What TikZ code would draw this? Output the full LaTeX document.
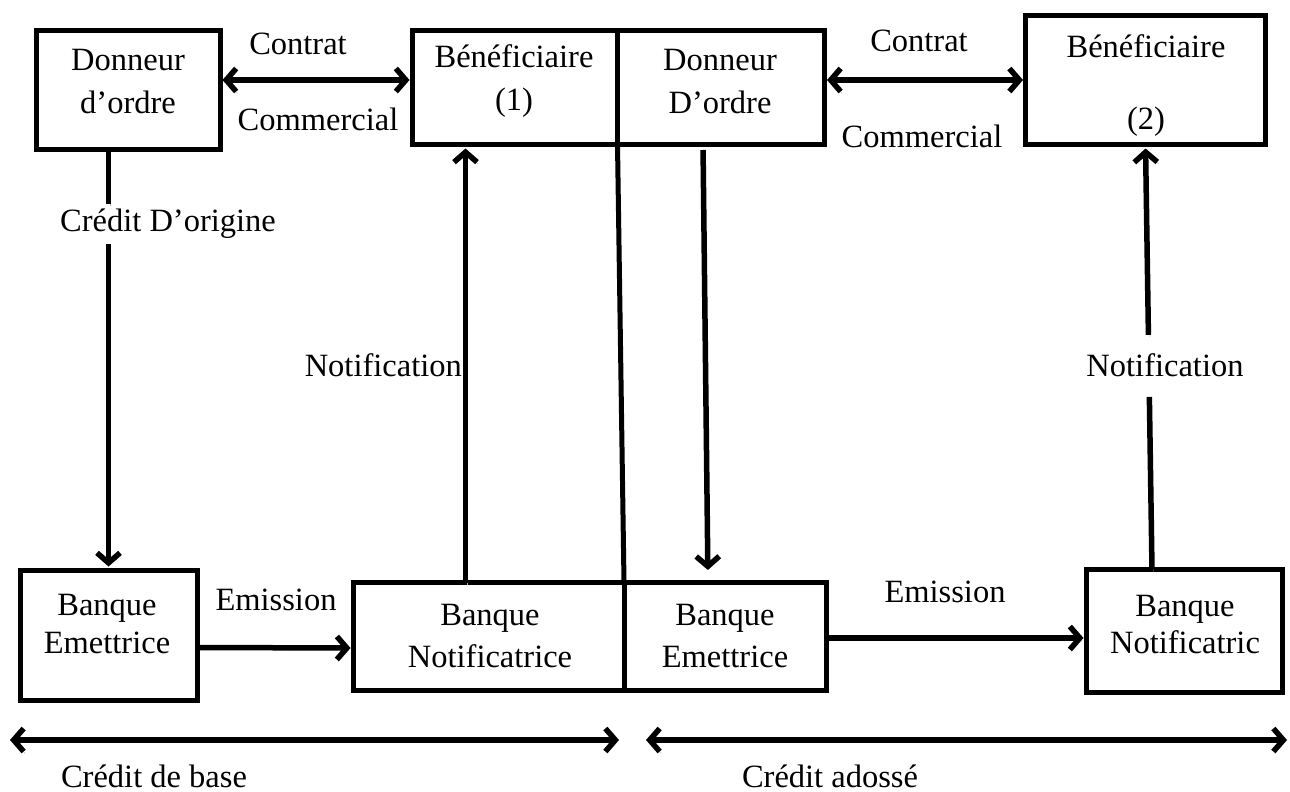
\documentclass[tikz,border=0pt]{standalone}
\usepackage{fontspec}
\setmainfont{Liberation Serif}
\usetikzlibrary{arrows.meta,calc}
\begin{document}
\begin{tikzpicture}[x=1pt,y=-1pt,
  box/.style={draw, line width=5pt, inner sep=0pt, outer sep=0pt, rectangle},
  txt/.style={font=\fontsize{32.5}{43}\selectfont, align=center, inner sep=0pt},
  link/.style={line width=5.5pt,
    preaction={draw=black!30, transform canvas={shift={(1.5pt,-2pt)}}}},
  tip/.style={-{Straight Barb[length=10pt,width=23pt]}},
  tips/.style={{Straight Barb[length=10pt,width=23pt]}-{Straight Barb[length=10pt,width=23pt]}},
]
\useasboundingbox (0,0) rectangle (1290,792);

% boxes
\node[box, minimum width=183.5pt, minimum height=119pt] (d1)  at (128.25,90)  {};
\node[box, minimum width=205.5pt, minimum height=114pt] (b1)  at (514.75,87.5) {};
\node[box, minimum width=207pt,   minimum height=114pt] (d2)  at (721,87.5)   {};
\node[box, minimum width=240pt,   minimum height=129pt] (bf2) at (1145.5,80)  {};
\node[box, minimum width=177pt,   minimum height=130pt] (be1) at (108.5,635.5) {};
\node[box, minimum width=271pt,   minimum height=108pt] (bn)  at (488.5,636.5) {};
\node[box, minimum width=202pt,   minimum height=108pt] (be2) at (725,636.5)  {};
\node[box, minimum width=196pt,   minimum height=123pt] (bnc) at (1184,631)   {};

% box texts
\node[txt] (td1) at (128,81.5) {Donneur\\d’ordre};
\node[txt] (tb1) at (514,81.5) {Bénéficiaire\\(1)};
\node[txt] (td2) at (720,81.5) {Donneur\\D’ordre};
\node[txt, font=\fontsize{32.5}{72}\selectfont] (tbf2) at (1146,86) {Bénéficiaire\\(2)};
\node[txt, font=\fontsize{32.5}{38}\selectfont] (tbe1) at (107,624) {Banque\\Emettrice};
\node[txt, font=\fontsize{32.5}{42}\selectfont] (tbn)  at (490,636) {Banque\\Notificatrice};
\node[txt, font=\fontsize{32.5}{42}\selectfont] (tbe2) at (725,636) {Banque\\Emettrice};
\node[txt, font=\fontsize{32.5}{37}\selectfont] (tbnc) at (1185,625) {Banque\\Notificatric};

% link labels
\node[txt] (lc1) at (298,44)  {Contrat};
\node[txt] (lm1) at (318,119) {Commercial};
\node[txt] (lc2) at (919,41)  {Contrat};
\node[txt] (lm2) at (922,136) {Commercial};
\node[txt, minimum height=40pt] (lo) at (168,224) {Crédit D’origine};
\node[txt, anchor=east] (ln1) at (462,365) {Notification};
\node[txt] (ln2) at (1165,365) {Notification};
\node[txt] (le1) at (276,600) {Emission};
\node[txt] (le2) at (945,592) {Emission};
\node[txt] (lb)  at (154,776) {Crédit de base};
\node[txt] (la)  at (830,776) {Crédit adossé};

% helper points
\coordinate (n1b) at ([xshift=112.5pt]bn.north west);
\coordinate (dA)  at ([xshift=85.5pt]d2.south west);
\coordinate (dB)  at ([xshift=84pt]be2.north west);
\coordinate (n2b) at ([xshift=66pt]bnc.north west);
\coordinate (r1a) at (10,740);
\coordinate (r1b) at (619,740);
\coordinate (r2a) at (646,740);
\coordinate (r2b) at (1287,740);

% commercial contracts
\draw[link, tips, shorten <=2.5pt, shorten >=2.5pt]
  ([yshift=-49.5pt]d1.north east) -- ([yshift=-49.5pt]b1.north west);
\draw[link, tips, shorten <=2.5pt, shorten >=2.5pt]
  ([yshift=-49.5pt]d2.north east) -- ([yshift=-64.5pt]bf2.north west);

% original credit
\draw[link] (be1.north |- d1.south) -- (be1.north |- lo.north);
\draw[link, tip, shorten >=4pt] (be1.north |- lo.south) -- (be1.north);

% notification of beneficiary (1)
\draw[link, tip, shorten >=4pt] (n1b) -- (n1b |- b1.south);

% back-to-back order
\draw[link, tip, shorten <=5.5pt, shorten >=12.5pt] (dA) -- (dB);

% separation between the two credits
\draw[line width=5pt] (b1.south east) -- (bn.north east);

% issuance
\draw[link, tip, shorten >=2.5pt] ([yshift=-12pt]be1.east) -- ([yshift=-11.5pt]bn.west);
\draw[link, tip, shorten >=2.5pt] ([yshift=-1.5pt]be2.east) -- ([yshift=-7pt]bnc.west);

% notification of beneficiary (2)
\draw[link] (n2b) -- ($(n2b)!0.406!(bf2.south)$);
\draw[link, tip, shorten >=4pt] ($(n2b)!0.552!(bf2.south)$) -- (bf2.south);

% ranges
\draw[link, tips] (r1a) -- (r1b);
\draw[link, tips] (r2a) -- (r2b);
\end{tikzpicture}
\end{document}
